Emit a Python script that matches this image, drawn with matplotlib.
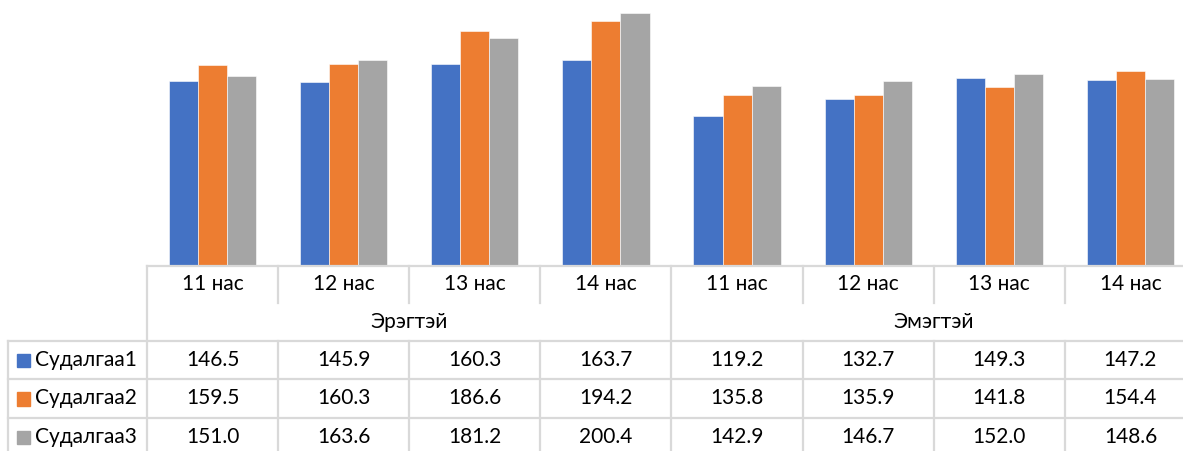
import numpy as np
import matplotlib
matplotlib.use("Agg")
import matplotlib.pyplot as plt

plt.rcParams["font.family"] = ["Lato", "DejaVu Sans"]

# data
ages = ["11 нас", "12 нас", "13 нас", "14 нас", "11 нас", "12 нас", "13 нас", "14 нас"]
groups = ["Эрэгтэй", "Эмэгтэй"]
series = ["Судалгаа1", "Судалгаа2", "Судалгаа3"]
s1 = [146.5, 145.9, 160.3, 163.7, 119.2, 132.7, 149.3, 147.2]
s2 = [159.5, 160.3, 186.6, 194.2, 135.8, 135.9, 141.8, 154.4]
s3 = [151.0, 163.6, 181.2, 200.4, 142.9, 146.7, 152.0, 148.6]
colors = ["#4472C4", "#ED7D31", "#A5A5A5"]

W, H = 1183, 451
fig = plt.figure(figsize=(W / 100, H / 100), dpi=100)

# layout in pixels
x0, x1 = 147, 1196          # plot/table left and right (right is cropped)
base = 265.5                 # bar baseline
cw = (x1 - x0) / len(ages)   # column width
grid = "#D9D9D9"

ax = fig.add_axes([x0 / W, (H - base) / H, (x1 - x0) / W, base / H])
n = len(ages)
bw = 29.1 / cw
xs = np.arange(n) + 0.5
for j, vals in enumerate([s1, s2, s3]):
    ax.bar(xs + (j - 1) * bw, vals, width=bw, color=colors[j],
           edgecolor="white", linewidth=0.4)
ax.set_xlim(0, n)
ax.set_ylim(0, base / 1.258)
ax.axis("off")

# data table
tab = fig.add_axes([0, 0, 1, 1])
tab.set_xlim(0, W)
tab.set_ylim(H, 0)
tab.axis("off")
lw = 1.6
fs = 15

row_hdr = (base, 303)
row_grp = (303, 341)
rows = [(341, 379), (379, 418), (418, 456)]
left = 8

# horizontal lines
tab.plot([x0, W], [base, base], color=grid, lw=lw)
for r in rows:
    tab.plot([left, W], [r[0], r[0]], color=grid, lw=lw)
tab.plot([left, W], [rows[-1][1], rows[-1][1]], color=grid, lw=lw)

# vertical lines
tab.plot([left, left], [rows[0][0], H + 10], color=grid, lw=lw)
for i in range(n + 1):
    xv = x0 + i * cw
    if i in (0, n // 2, n):
        tab.plot([xv, xv], [base, H + 10], color=grid, lw=lw)
    else:
        tab.plot([xv, xv], [base, row_hdr[1]], color=grid, lw=lw)
        tab.plot([xv, xv], [rows[0][0], H + 10], color=grid, lw=lw)

# category labels
for i, a in enumerate(ages):
    tab.text(x0 + (i + 0.5) * cw, sum(row_hdr) / 2, a, ha="center", va="center",
             fontsize=fs, color="#000000")
half = n // 2
for g, name in enumerate(groups):
    xc = x0 + (g * half + half / 2) * cw
    tab.text(xc, sum(row_grp) / 2, name, ha="center", va="center",
             fontsize=fs, color="#000000")

# series rows
for j, (name, vals) in enumerate(zip(series, [s1, s2, s3])):
    yc = sum(rows[j]) / 2
    tab.add_patch(plt.Rectangle((17, yc - 6.5), 13.5, 13.5, color=colors[j]))
    tab.text(35, yc, name, ha="left", va="center", fontsize=fs, color="#000000")
    for i, v in enumerate(vals):
        tab.text(x0 + (i + 0.5) * cw, yc, f"{v:.1f}", ha="center", va="center",
                 fontsize=fs, color="#000000")

fig.savefig("out.png", dpi=100)
